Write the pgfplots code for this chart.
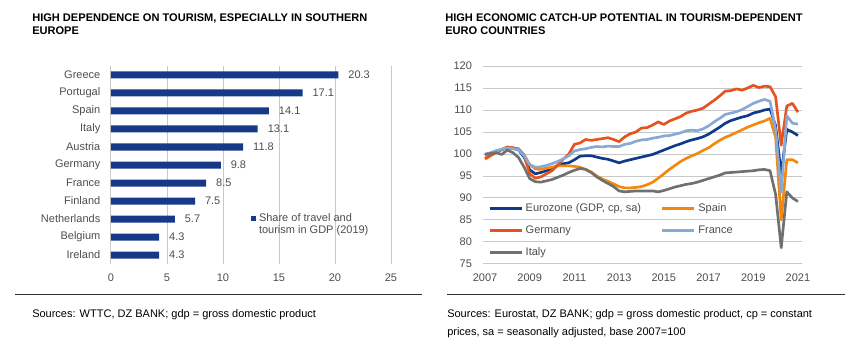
\documentclass[border=0pt]{standalone}
\usepackage{fontspec}
\setmainfont{Liberation Sans}
\usepackage{pgfplots}
\usepackage{pgfplotstable}
\pgfplotsset{compat=1.18}
\definecolor{navy}{HTML}{17398A}
\definecolor{ezblue}{HTML}{0E3A8C}
\definecolor{esorange}{HTML}{F5870F}
\definecolor{dered}{HTML}{E8521E}
\definecolor{frblue}{HTML}{86A9D6}
\definecolor{itgrey}{HTML}{707070}
\definecolor{gridgrey}{HTML}{C8C8C8}
\definecolor{labgrey}{HTML}{4D4D4D}

\pgfplotstableread{
t ez es de fr it
2007.00 99.8 98.8 99.0 99.8 100.0
2007.25 100.2 99.6 99.7 100.3 100.1
2007.50 100.7 100.3 100.4 100.7 100.3
2007.75 101.0 101.0 101.0 101.1 99.9
2008.00 101.5 101.5 101.6 101.4 100.9
2008.25 101.3 101.4 101.4 101.2 100.3
2008.50 100.9 101.0 101.2 101.0 99.2
2008.75 99.3 99.8 99.7 99.6 97.0
2009.00 96.4 97.6 95.5 97.6 94.4
2009.25 95.5 96.6 94.5 97.0 93.7
2009.50 95.8 96.5 94.8 97.1 93.6
2009.75 96.2 96.8 95.5 97.4 93.9
2010.00 96.6 97.0 96.2 97.8 94.2
2010.25 97.4 97.3 97.5 98.3 94.7
2010.50 97.8 97.3 98.8 98.9 95.2
2010.75 98.0 97.3 100.0 99.6 95.8
2011.00 98.7 97.2 102.2 100.7 96.3
2011.25 99.5 97.0 102.5 101.0 96.7
2011.50 99.6 96.5 103.3 101.2 96.5
2011.75 99.6 95.9 103.1 101.5 95.8
2012.00 99.3 95.0 103.3 101.7 94.8
2012.25 99.0 94.3 103.5 101.6 94.0
2012.50 98.8 93.8 103.7 101.8 93.3
2012.75 98.4 93.2 103.3 101.7 92.6
2013.00 98.0 92.6 102.8 101.7 91.6
2013.25 98.4 92.3 103.9 102.2 91.4
2013.50 98.7 92.3 104.6 102.4 91.5
2013.75 99.0 92.4 105.0 102.9 91.6
2014.00 99.3 92.6 105.9 103.2 91.6
2014.25 99.6 93.0 106.0 103.3 91.6
2014.50 99.9 93.6 106.6 103.6 91.6
2014.75 100.4 94.5 107.3 103.8 91.4
2015.00 100.9 95.5 106.7 104.1 91.7
2015.25 101.4 96.5 107.5 104.2 92.1
2015.50 101.9 97.4 108.0 104.5 92.5
2015.75 102.3 98.3 108.5 104.8 92.8
2016.00 102.8 99.0 109.3 105.3 93.1
2016.25 103.2 99.6 109.7 105.4 93.3
2016.50 103.5 100.1 110.0 105.3 93.6
2016.75 103.9 100.8 110.4 105.7 94.0
2017.00 104.5 101.4 111.3 106.4 94.4
2017.25 105.3 102.3 112.2 107.3 94.8
2017.50 106.1 103.1 113.2 108.1 95.2
2017.75 107.0 103.8 114.3 109.0 95.7
2018.00 107.6 104.3 114.4 109.3 95.8
2018.25 108.0 104.9 114.8 109.6 95.9
2018.50 108.4 105.5 114.5 110.1 96.0
2018.75 108.7 106.1 115.0 110.8 96.1
2019.00 109.3 106.6 115.6 111.5 96.2
2019.25 109.6 107.1 115.1 112.0 96.4
2019.50 110.0 107.5 115.4 112.4 96.5
2019.75 110.2 108.1 115.3 112.0 96.2
2020.00 106.4 103.8 113.0 105.5 90.8
2020.25 95.4 85.0 102.0 91.3 78.7
2020.50 105.6 98.7 110.9 108.7 91.4
2020.75 105.0 98.7 111.5 107.0 90.0
2021.00 104.2 98.0 109.5 106.8 89.2
}\gdp

\pgfplotstableread{
idx val
0 20.3
1 17.1
2 14.1
3 13.1
4 11.8
5 9.8
6 8.5
7 7.5
8 5.7
9 4.3
10 4.3
}\tourism

\newcommand{\lblfont}{\fontsize{8.25}{10}\selectfont}

\begin{document}
\begin{tikzpicture}
\path[use as bounding box] (0pt,0pt) rectangle (637.5pt,270pt);

% titles
\node[anchor=north west, align=left, inner sep=0pt, font=\bfseries\fontsize{8.3}{9.6}\selectfont]
  at (24pt,260pt) {HIGH DEPENDENCE ON TOURISM, ESPECIALLY IN SOUTHERN\\EUROPE};
\node[anchor=north west, align=left, inner sep=0pt, font=\bfseries\fontsize{8.3}{9.6}\selectfont]
  at (333.75pt,260pt) {HIGH ECONOMIC CATCH-UP POTENTIAL IN TOURISM-DEPENDENT\\EURO COUNTRIES};

% left chart
\begin{axis}[
  at={(83.25pt,72pt)}, anchor=south west, scale only axis,
  width=210pt, height=148.5pt,
  xbar, bar width=5.25pt,
  xmin=0, xmax=25, ymin=-0.5, ymax=10.5, y dir=reverse,
  xtick={0,5,10,15,20,25}, ytick={0,...,10},
  yticklabels={Greece,Portugal,Spain,Italy,Austria,Germany,France,Finland,Netherlands,Belgium,Ireland},
  xmajorgrids, major grid style={draw=gridgrey, line width=0.75pt},
  axis line style={draw=none}, major tick length=0pt,
  tick label style={font=\lblfont, text=labgrey},
  yticklabel style={xshift=-4.5pt},
  xticklabel style={yshift=-4pt},
  /pgf/number format/assume math mode=true,
  point meta=x,
  nodes near coords={\pgfmathprintnumber[fixed,fixed zerofill,precision=1]{\pgfplotspointmeta}},
  nodes near coords style={font=\lblfont, text=labgrey, anchor=west, xshift=4pt},
  legend style={at={(0.5,0.27)}, anchor=north west, draw=none, fill=none, inner sep=0pt,
    font=\fontsize{8.25}{9}\selectfont, text=labgrey},
  legend cell align=left,
  legend image code/.code={\fill[navy] (0pt,-1.9pt) rectangle (3.8pt,1.9pt);},
]
\addplot[fill=navy, draw=none] table[x=val, y=idx] {\tourism};
\addlegendentry{\begin{tabular}[t]{@{}l@{}}Share of travel and\\tourism in GDP (2019)\end{tabular}}
\end{axis}

% right chart
\begin{axis}[
  at={(362.25pt,72pt)}, anchor=south west, scale only axis,
  width=239.25pt, height=148.5pt,
  xmin=2006.91, xmax=2021.18, ymin=75, ymax=120,
  xtick={2007,2009,...,2021}, ytick={75,80,...,120},
  /pgf/number format/1000 sep={},
  ymajorgrids, major grid style={draw=gridgrey, line width=0.75pt},
  axis line style={draw=none}, major tick length=0pt,
  tick label style={font=\lblfont, text=labgrey},
  yticklabel style={xshift=-4.75pt},
  xticklabel style={yshift=-4pt},
  /pgf/number format/assume math mode=true,
  every axis plot/.append style={line width=2pt, line join=round},
  legend columns=2,
  legend style={at={(0.016,0.323)}, anchor=north west, draw=none, fill=none, inner sep=0pt,
    font=\lblfont, text=labgrey, row sep=4.5pt,
    nodes={text height=6.2pt, text depth=1.8pt, inner ysep=2pt},
    /tikz/every even column/.append style={column sep=13pt}},
  legend cell align=left,
  legend image code/.code={\draw[#1, line width=2pt] (0pt,0pt) -- (24pt,0pt);},
]
\addplot[ezblue, no markers] table[x=t, y=ez] {\gdp};
\addlegendentry{Eurozone (GDP, cp, sa)}
\addplot[esorange, no markers] table[x=t, y=es] {\gdp};
\addlegendentry{Spain}
\addplot[dered, no markers] table[x=t, y=de] {\gdp};
\addlegendentry{Germany}
\addplot[frblue, no markers] table[x=t, y=fr] {\gdp};
\addlegendentry{France}
\addplot[itgrey, no markers] table[x=t, y=it] {\gdp};
\addlegendentry{Italy}
\end{axis}

% rules
\draw[line width=0.75pt, black!80] (11.25pt,48.75pt) -- (316.5pt,48.75pt);
\draw[line width=0.75pt, black!80] (335.25pt,48.75pt) -- (633.75pt,48.75pt);

% sources
\node[anchor=north west, align=left, inner sep=0pt, font=\fontsize{8.25}{13.5}\selectfont]
  at (24pt,37.9pt) {Sources: WTTC, DZ BANK; gdp = gross domestic product};
\node[anchor=north west, align=left, inner sep=0pt, font=\fontsize{8.25}{13.5}\selectfont]
  at (335.25pt,37.9pt) {Sources: Eurostat, DZ BANK; gdp = gross domestic product, cp = constant\\prices, sa = seasonally adjusted, base 2007=100};
\end{tikzpicture}
\end{document}
